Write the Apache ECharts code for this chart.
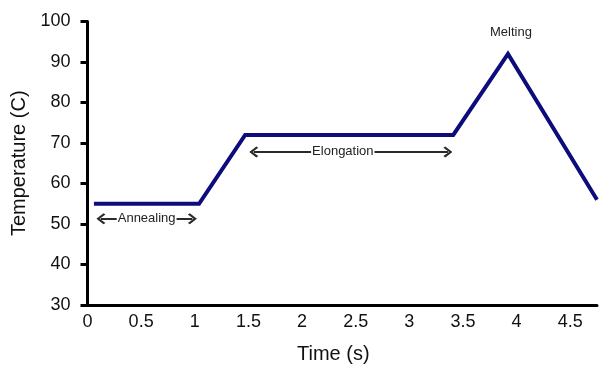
<!DOCTYPE html>
<html>
<head>
<meta charset="utf-8">
<script src="https://cdn.jsdelivr.net/npm/echarts@6/dist/echarts.min.js"></script>
<style>
  html, body { margin: 0; padding: 0; background: #ffffff; }
  #chart { width: 600px; height: 369px; }
</style>
</head>
<body>
<div id="chart"></div>
<script>
// PCR cycle temperature profile
const timeS = [0.06, 1.04, 1.47, 3.41, 3.92, 4.75];
const tempC = [55, 55, 72, 72, 92, 56];

// axis ticks
const timeTicks = [0, 0.5, 1, 1.5, 2, 2.5, 3, 3.5, 4, 4.5];
const timeMax = 4.75;
const tempTicks = [30, 40, 50, 60, 70, 80, 90, 100];

// phase annotations (double-headed arrows)
const phaseNames = ['Annealing', 'Elongation'];
const phaseStart = [0.125, 1.55];
const phaseEnd = [0.978, 3.36];
const phaseArrowTemp = [51.3, 67.8];
const phaseLabelShift = [0, -8];

// peak label
const peakName = 'Melting';
const peakIndex = 4;

const FONT = '"Liberation Sans", Arial, Helvetica, sans-serif';
// open chevron arrow head, tip pointing along the line
const chevron = 'path://M10,0 L20,9 L17.6,11.4 L10,4.2 L2.4,11.4 L0,9 Z';

const arrowData = phaseNames.map((name, i) => [
  {
    coord: [phaseStart[i], phaseArrowTemp[i]],
    label: {
      show: true,
      position: 'insideMiddle',
      formatter: name,
      offset: [phaseLabelShift[i], 0],
      fontFamily: FONT,
      fontSize: 13,
      color: '#222',
      backgroundColor: '#ffffff',
      padding: [0, 1]
    }
  },
  { coord: [phaseEnd[i], phaseArrowTemp[i]] }
]);

const chart = echarts.init(document.getElementById('chart'), null, { renderer: 'canvas' });

chart.setOption({
  animation: false,
  backgroundColor: '#ffffff',
  grid: { left: 87.5, right: 0, top: 21.5, bottom: 60.7, containLabel: false },
  xAxis: {
    type: 'value',
    min: timeTicks[0],
    max: timeMax,
    interval: timeTicks[1] - timeTicks[0],
    name: 'Time (s)',
    nameLocation: 'middle',
    nameGap: 39,
    nameTextStyle: { fontFamily: FONT, fontSize: 20, color: '#111', padding: [0, 18, 0, 0] },
    axisLine: { show: true, onZero: false, lineStyle: { color: '#000', width: 3 } },
    axisTick: { show: false },
    splitLine: { show: false },
    axisLabel: {
      margin: 8,
      fontFamily: FONT,
      fontSize: 18,
      color: '#111',
      formatter: v => (timeTicks.some(t => Math.abs(t - v) < 1e-9) ? String(v) : '')
    }
  },
  yAxis: {
    type: 'value',
    min: tempTicks[0],
    max: tempTicks[tempTicks.length - 1],
    interval: tempTicks[1] - tempTicks[0],
    name: 'Temperature (C)',
    nameLocation: 'middle',
    nameGap: 49,
    nameTextStyle: { fontFamily: FONT, fontSize: 20, color: '#111' },
    axisLine: { show: true, lineStyle: { color: '#000', width: 3 } },
    axisTick: { show: true, inside: false, length: 7, lineStyle: { color: '#000', width: 3 } },
    splitLine: { show: false },
    axisLabel: { margin: 17, fontFamily: FONT, fontSize: 18, color: '#111' }
  },
  series: [{
    type: 'line',
    data: timeS.map((t, i) => [t, tempC[i]]),
    symbol: 'none',
    lineStyle: { color: '#0c0c7c', width: 4, join: 'miter' },
    itemStyle: { color: '#0c0c7c' },
    silent: true,
    markPoint: {
      silent: true,
      animation: false,
      symbol: 'circle',
      symbolSize: 0,
      label: {
        show: true,
        position: 'top',
        distance: 15,
        offset: [3, 0],
        formatter: peakName,
        fontFamily: FONT,
        fontSize: 13,
        color: '#222'
      },
      data: [{ coord: [timeS[peakIndex], tempC[peakIndex]] }]
    },
    markLine: {
      silent: true,
      animation: false,
      symbol: [chevron, chevron],
      symbolSize: [11, 9],
      lineStyle: { color: '#2a2a2a', width: 1.8, type: 'solid' },
      emphasis: { disabled: true },
      data: arrowData
    }
  }]
});
</script>
</body>
</html>
